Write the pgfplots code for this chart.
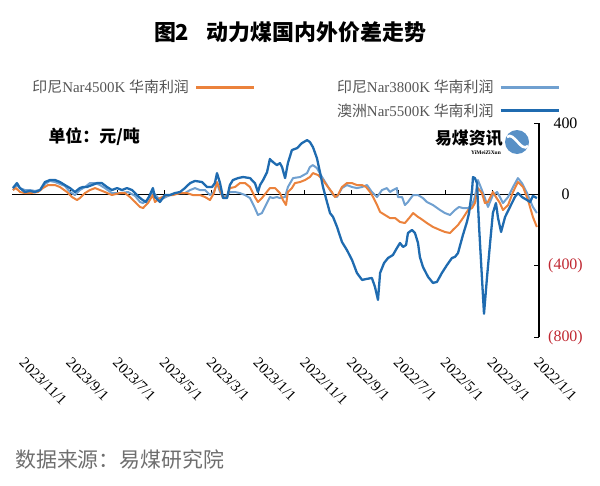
\documentclass[border=0pt]{standalone}
\usepackage{pgfplots}
\usepackage{pgfplotstable}
\pgfplotsset{compat=1.18}
\usepackage{fontspec}
\setmainfont{Liberation Serif}
\newfontfamily\cjk{Noto Sans CJK SC}
\definecolor{dblue}{RGB}{31,107,176}
\definecolor{lblue}{RGB}{112,160,208}
\definecolor{orng}{RGB}{235,130,60}
\definecolor{negred}{RGB}{192,40,50}
\definecolor{lgray}{RGB}{85,85,85}
\definecolor{sgray}{RGB}{110,110,110}

% x: months since 2022/1/1, y: yuan/ton
\pgfplotstableread{
m v
0.09 -20
0.26 -8
0.38 -42
0.51 -31
0.73 -14
0.90 8
1.03 -14
1.24 -70
1.45 -126
1.62 -210
1.75 -132
1.84 -48
1.97 -104
2.09 -272
2.22 -462
2.35 -669
2.44 -462
2.56 -182
2.65 64
2.74 92
2.82 98
2.86 25
2.99 -104
3.08 -154
3.25 -227
3.46 -328
3.59 -350
3.72 -356
3.93 -395
4.15 -440
4.36 -490
4.53 -496
4.74 -462
4.96 -406
5.09 -350
5.17 -272
5.30 -216
5.43 -199
5.60 -216
5.68 -283
5.81 -294
5.94 -272
6.07 -300
6.24 -339
6.45 -356
6.62 -384
6.79 -440
6.88 -591
7.01 -518
7.14 -468
7.35 -473
7.56 -479
7.78 -440
7.99 -367
8.21 -311
8.42 -266
8.63 -182
8.80 -126
8.93 -104
9.06 -42
9.23 42
9.36 126
9.49 204
9.66 266
9.79 294
9.91 305
10.13 288
10.34 260
10.56 249
10.73 176
10.85 92
10.98 154
11.07 176
11.20 165
11.37 182
11.50 199
11.62 126
11.79 81
11.92 53
12.01 14
12.14 64
12.35 92
12.65 98
12.86 92
13.08 81
13.21 53
13.33 -20
13.50 -20
13.63 64
13.76 120
13.85 64
13.97 42
14.19 42
14.40 70
14.70 76
14.91 64
15.13 36
15.34 14
15.56 8
15.77 -3
15.98 -3
16.20 -42
16.41 -14
16.50 36
16.67 -14
16.80 -42
17.00 -25
17.18 -3
17.39 25
17.61 36
17.82 25
18.03 36
18.25 25
18.46 42
18.68 64
18.89 64
19.10 53
19.32 42
19.49 42
19.62 36
19.83 14
20.04 36
20.26 53
20.47 70
20.68 81
20.90 81
21.11 70
21.32 25
21.54 14
21.75 20
21.97 14
22.18 36
22.31 64
22.48 36
}\aus

\pgfplotstableread{
m v
0.09 -104
0.26 -70
0.51 8
0.73 64
0.90 92
1.11 42
1.32 -14
1.54 -48
1.67 -14
1.79 14
1.97 -3
2.18 -70
2.31 -20
2.44 25
2.61 81
2.74 -14
2.86 -59
3.03 -76
3.25 -76
3.42 -70
3.59 -87
3.80 -115
4.02 -104
4.23 -87
4.53 -59
4.79 -42
4.96 -20
5.17 -3
5.38 -3
5.60 -42
5.73 -59
5.85 -14
6.03 -14
6.07 36
6.24 25
6.37 14
6.50 36
6.71 25
6.92 -14
7.14 14
7.35 53
7.56 42
7.78 36
7.99 42
8.21 53
8.42 36
8.63 -14
8.80 -3
8.93 25
9.06 53
9.27 98
9.49 148
9.66 165
9.79 154
9.91 120
10.21 98
10.51 92
10.73 42
10.85 -14
11.07 -20
11.20 -14
11.37 -20
11.50 -14
11.67 -59
11.84 -104
12.01 -115
12.14 -76
12.35 -20
12.56 -3
12.78 8
12.99 14
13.21 14
13.33 -3
13.50 -14
13.63 14
13.76 64
13.89 14
14.06 -3
14.27 25
14.49 25
14.70 36
14.91 25
15.13 8
15.34 8
15.77 -3
16.20 -31
16.50 14
16.75 -31
16.92 -48
17.05 -42
17.26 -8
17.56 14
17.91 8
18.25 8
18.55 36
18.76 53
18.97 64
19.19 64
19.40 42
19.62 25
19.83 -3
20.04 14
20.26 48
20.47 59
20.68 70
20.90 76
21.11 59
21.32 25
21.54 20
21.75 25
21.97 25
22.18 36
22.31 53
22.48 25
}\idnA

\pgfplotstableread{
m v
0.09 -182
0.26 -126
0.47 -31
0.68 42
0.90 70
1.11 14
1.32 -59
1.54 -87
1.67 -48
1.84 -14
1.97 14
2.18 -42
2.31 -48
2.44 8
2.61 36
2.74 -48
2.86 -76
3.03 -87
3.25 -132
3.46 -171
3.68 -199
3.80 -216
4.02 -210
4.23 -199
4.53 -182
4.79 -160
5.09 -132
5.17 -126
5.38 -104
5.51 -126
5.73 -160
5.94 -154
6.15 -132
6.37 -132
6.58 -115
6.79 -98
6.92 -59
7.09 -14
7.22 14
7.39 42
7.56 53
7.78 53
7.99 64
8.21 64
8.42 42
8.59 -3
8.72 -14
8.85 14
9.02 42
9.23 81
9.44 109
9.66 120
9.79 98
10.00 81
10.21 70
10.43 64
10.56 36
10.73 14
10.81 -59
10.94 -31
11.07 8
11.28 36
11.50 36
11.67 8
11.84 -20
12.01 -42
12.14 -14
12.35 42
12.56 64
12.78 64
12.99 42
13.21 36
13.33 -14
13.50 -20
13.63 25
13.76 70
13.89 8
14.06 -31
14.27 -14
14.49 -3
14.79 -3
15.04 8
15.34 8
15.64 -3
15.90 -3
16.20 -20
16.41 -42
16.50 -3
16.71 -48
16.92 -76
17.05 -70
17.26 -42
17.48 -14
17.69 8
17.91 8
18.25 -3
18.55 14
18.76 25
18.97 36
19.19 25
19.40 8
19.62 -20
19.74 -31
19.96 -14
20.17 14
20.47 42
20.68 53
20.98 53
21.20 36
21.41 14
21.75 8
21.97 8
22.18 14
22.35 36
22.48 25
}\idnB

\begin{document}
\begin{tikzpicture}
\useasboundingbox (0,0) rectangle (600bp,-486bp);
\node[font=\cjk\bfseries\fontsize{22}{26}\selectfont] at (290bp,-32bp) {图2\hspace{0.8em}动力煤国内外价差走势};
\begin{axis}[
  at={(539bp,-194.5bp)}, anchor=origin,
  scale only axis, width=527bp, height=214bp,
  x dir=reverse,
  xmin=0, xmax=22.52, ymin=-800, ymax=400,
  axis x line=middle, axis y line=right,
  x axis line style={-, black, line width=1.2bp},
  y axis line style={-, black, line width=1.2bp},
  hide obscured x ticks=false, hide obscured y ticks=false,
  xtick={0,2,...,22},
  xticklabels={2022/1/1,2022/3/1,2022/5/1,2022/7/1,2022/9/1,2022/11/1,2023/1/1,2023/3/1,2023/5/1,2023/7/1,2023/9/1,2023/11/1},
  ytick={-800,-400,0,400},
  yticklabels={\textcolor{negred}{(800)},\textcolor{negred}{(400)},0,400},
  tick align=center,
  major tick length=5bp,
  xtick style={black, line width=1bp, yshift=2.5bp},
  ytick style={black, line width=1.2bp, xshift=-2.5bp},
  xticklabel shift=158bp,
  xticklabel style={font=\fontsize{15}{15}\selectfont, rotate=-45, anchor=north west, inner sep=0pt, xshift=2bp},
  yticklabel style={font=\fontsize{16}{16}\selectfont, anchor=center, xshift=24bp},
  legend columns=2,
  legend plot pos=right,
  legend cell align=right,
  legend image code/.code={\draw[#1] (0bp,0bp) -- (58bp,0bp);},
  legend style={draw=none, fill=none, inner sep=0pt, text=lgray,
    font=\fontsize{15}{15}\selectfont,
    at={(axis description cs:1.0398,1.2103)}, anchor=north east,
    row sep=5bp,
    /tikz/every odd column/.append style={column sep=4bp},
    /tikz/every even column/.append style={column sep=80bp}},
]
\addplot[lblue, line width=2bp, line join=round, forget plot] table[x=m,y=v] {\idnA};
\addplot[orng, line width=2bp, line join=round, forget plot] table[x=m,y=v] {\idnB};
\addplot[dblue, line width=2.3bp, line join=round, forget plot] table[x=m,y=v] {\aus};
\addlegendimage{orng, line width=2.2bp}
\addlegendentry{{\cjk 印尼}Nar4500K {\cjk 华南利润}}
\addlegendimage{lblue, line width=2.2bp}
\addlegendentry{{\cjk 印尼}Nar3800K {\cjk 华南利润}}
\addlegendimage{empty legend}
\addlegendentry{}
\addlegendimage{dblue, line width=2.2bp}
\addlegendentry{{\cjk 澳洲}Nar5500K {\cjk 华南利润}}
\end{axis}
\node[font=\cjk\bfseries\fontsize{17}{17}\selectfont, anchor=west] at (45bp,-137bp) {单位：元/吨};
\fill[lblue!70!dblue] (517bp,-142bp) circle (12bp);
\draw[white, line width=2.6bp] (507bp,-137bp) .. controls (514bp,-131bp) and (521bp,-153bp) .. (528bp,-146bp);
\node[font=\cjk\bfseries\fontsize{17}{17}\selectfont, anchor=east, inner sep=0pt] at (503bp,-138bp) {易煤资讯};
\node[font=\bfseries\fontsize{5.5}{6}\selectfont, anchor=east, inner sep=0pt] at (501bp,-153bp) {YiMeiZiXun};
\node[font=\cjk\fontsize{21}{21}\selectfont, text=sgray, anchor=west, inner sep=0pt] at (15bp,-460bp) {数据来源：易煤研究院};
\end{tikzpicture}
\end{document}
